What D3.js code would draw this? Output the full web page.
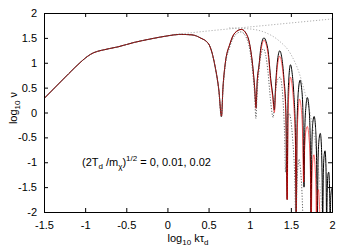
<!DOCTYPE html>
<html>
<head>
<meta charset="utf-8">
<script src="https://cdnjs.cloudflare.com/ajax/libs/d3/7.8.5/d3.min.js"></script>
<style>
html,body{margin:0;padding:0;background:#fff}
svg{display:block}
text{font-family:"Liberation Sans",Arial,Helvetica,sans-serif;fill:#000}
</style>
</head>
<body>
<div id="chart"></div>
<script>
// log10 k tau_d  vs  log10 nu
const xTicks = [-1.5, -1, -0.5, 0, 0.5, 1, 1.5, 2];
const yTicks = [-2, -1.5, -1, -0.5, 0, 0.5, 1, 1.5, 2];

// part common to all three runs
const shared = [[-1.5,0.28],[-1.35,0.53],[-1.2,0.78],[-1.05,1.02],[-0.97,1.13],[-0.9,1.2],[-0.8,1.25],[-0.6,1.32],
  [-0.4,1.41],[-0.2,1.48],[0,1.54],[0.15,1.57],[0.3,1.56],[0.4,1.5],[0.5,1.38]];

// (2T_d/m_chi)^1/2 = 0  (black)
const run0 = [[0.58,0.92],[0.625,0.45],[0.657,-0.08],[0.675,0.5],[0.7,0.95],[0.76,1.38],[0.82,1.6],[0.9,1.67],[0.96,1.58],[1.0,1.37],[1.04,0.88],[1.06,0.5],[1.077,0.1],
  [1.09,0.6],[1.113,0.95],[1.137,1.32],[1.173,1.5],[1.2,1.42],[1.225,1.22],[1.255,0.68],[1.28,0.35],[1.3,0.05],
  [1.315,0.55],[1.335,1.0],[1.365,1.24],[1.39,1.1],[1.415,0.7],[1.44,0.0],[1.455,-1.75],
  [1.465,0.2],[1.478,0.75],[1.495,0.96],[1.515,0.8],[1.535,0.4],[1.555,-0.4],[1.565,-2.2],
  [1.575,-0.3],[1.59,0.4],[1.612,0.65],[1.63,0.5],[1.645,0.1],[1.66,-1.5],
  [1.67,-0.3],[1.685,0.15],[1.7,0.3],[1.72,0.1],[1.735,-0.5],[1.745,-2.2],
  [1.755,-0.7],[1.767,-0.2],[1.783,-0.08],[1.8,-0.3],[1.812,-0.9],[1.822,-2.2],
  [1.83,-1.0],[1.842,-0.55],[1.858,-0.42],[1.872,-0.7],[1.88,-1.3],[1.887,-2.2],
  [1.895,-1.2],[1.905,-0.85],[1.915,-0.77],[1.927,-1.1],[1.935,-2.2],
  [1.942,-1.6],[1.95,-1.25],[1.96,-1.2],[1.97,-1.5],[1.978,-2.2],
  [1.985,-1.7],[1.995,-1.55],[2.0,-1.52]];

// = 0.01  (red)
const run1 = [[0.58,0.92],[0.625,0.45],[0.657,-0.08],[0.675,0.5],[0.7,0.95],[0.76,1.38],[0.82,1.6],[0.9,1.67],[0.96,1.57],[1.0,1.36],[1.04,0.86],[1.06,0.48],[1.077,0.08],
  [1.09,0.58],[1.113,0.92],[1.14,1.28],[1.173,1.45],[1.2,1.37],[1.225,1.15],[1.255,0.62],[1.28,0.3],[1.3,0.0],
  [1.315,0.45],[1.335,0.9],[1.365,1.13],[1.39,0.98],[1.415,0.6],[1.44,-0.1],[1.455,-1.75],
  [1.467,0.0],[1.48,0.5],[1.495,0.71],[1.515,0.55],[1.535,0.15],[1.555,-0.6],[1.565,-2.2],
  [1.575,-0.6],[1.59,0.05],[1.605,0.27],[1.625,0.1],[1.64,-0.3],[1.655,-1.4],
  [1.665,-0.8],[1.68,-0.4],[1.7,-0.28],[1.72,-0.5],[1.735,-1.0],[1.748,-2.2],
  [1.757,-1.3],[1.768,-0.95],[1.78,-0.85],[1.795,-1.1],[1.805,-1.6],[1.81,-2.2],
  [1.817,-1.8],[1.826,-1.6],[1.835,-1.55],[1.845,-1.75],[1.855,-2.2]];

// = 0.02  (dotted)
const run2 = [[0.58,0.9],[0.625,0.42],[0.655,-0.1],[0.675,0.45],[0.7,0.9],[0.76,1.33],[0.82,1.55],[0.895,1.62],[0.96,1.5],[1.0,1.27],[1.04,0.75],[1.06,0.35],[1.075,-0.12],
  [1.09,0.4],[1.11,0.8],[1.135,1.15],[1.165,1.28],[1.195,1.15],[1.22,0.85],[1.25,0.3],[1.27,0.0],[1.285,-0.1],
  [1.3,0.15],[1.32,0.5],[1.345,0.68],[1.37,0.71],[1.39,0.55],[1.41,0.1],[1.425,-0.5],[1.435,-1.2],
  [1.445,-0.6],[1.46,-0.15],[1.48,-0.02],[1.5,-0.15],[1.52,-0.5],[1.545,-1.2],[1.562,-2.2],
  [1.575,-1.4],[1.588,-1.05],[1.6,-0.94],[1.615,-1.1],[1.635,-1.6],[1.648,-2.2]];

// thin grey guide curves
const upperEnv = [[0.1,1.57],[0.5,1.64],[1.0,1.72],[1.5,1.8],[2.0,1.88]];
const lowerEnv = [[0.75,1.7],[1.0,1.68],[1.2,1.6],[1.35,1.45],[1.5,1.17],[1.6,0.8],[1.67,0.4],[1.75,-0.15],[1.82,-0.9],[1.88,-2.0]];

const W = 350, H = 245, mg = {t: 13, r: 18, b: 33, l: 44};

const svg = d3.select("#chart").append("svg").attr("width", W).attr("height", H);
const x = d3.scaleLinear().domain([-1.5, 2]).range([mg.l, W - mg.r]);
const y = d3.scaleLinear().domain([-2, 2]).range([H - mg.b, mg.t]);

svg.append("clipPath").attr("id", "clip").append("rect")
  .attr("x", mg.l).attr("y", mg.t).attr("width", W - mg.l - mg.r).attr("height", H - mg.t - mg.b);

const line = d3.line().x(d => x(d[0])).y(d => y(d[1])).curve(d3.curveMonotoneX);
const g = svg.append("g").attr("clip-path", "url(#clip)");

g.append("path").attr("d", line(upperEnv)).attr("fill", "none").attr("stroke", "#9a9a9a").attr("stroke-width", 0.8).attr("stroke-dasharray", "1.2,1.8");
g.append("path").attr("d", line(lowerEnv)).attr("fill", "none").attr("stroke", "#9a9a9a").attr("stroke-width", 0.8).attr("stroke-dasharray", "1.2,1.8");
g.append("path").attr("d", line(shared.concat(run0))).attr("fill", "none").attr("stroke", "#000").attr("stroke-width", 1);
g.append("path").attr("d", line(shared.concat(run1))).attr("fill", "none").attr("stroke", "#ff0000").attr("stroke-opacity", 0.6).attr("stroke-width", 1);
g.append("path").attr("d", line(shared.concat(run2))).attr("fill", "none").attr("stroke", "#555").attr("stroke-width", 0.9).attr("stroke-dasharray", "1.2,1.6");

const fmt = d => String(d);
const ax = (gen, tx, ty) => svg.append("g").attr("transform", `translate(${tx},${ty})`).call(gen)
  .call(s => s.selectAll("path,line").attr("stroke", "#000"))
  .call(s => s.selectAll("text").attr("font-size", 11).attr("font-family", null));

ax(d3.axisBottom(x).tickValues(xTicks).tickFormat(fmt).tickSize(-4).tickPadding(9), 0, H - mg.b);
ax(d3.axisTop(x).tickValues(xTicks).tickFormat("").tickSize(-4), 0, mg.t);
ax(d3.axisLeft(y).tickValues(yTicks).tickFormat(fmt).tickSize(-4).tickPadding(7), mg.l, 0);
ax(d3.axisRight(y).tickValues(yTicks).tickFormat("").tickSize(-4), W - mg.r, 0);

// axis titles
const xl = svg.append("text").attr("x", 188).attr("y", 241.5).attr("text-anchor", "middle").attr("font-size", 11);
xl.append("tspan").text("log");
xl.append("tspan").attr("font-size", 8).attr("dy", 3).text("10");
xl.append("tspan").attr("dy", -3).text(" k\u03c4");
xl.append("tspan").attr("font-size", 8).attr("dy", 3).text("d");

const yl = svg.append("text").attr("transform", "translate(17,108) rotate(-90)").attr("text-anchor", "middle").attr("font-size", 11);
yl.append("tspan").text("log");
yl.append("tspan").attr("font-size", 8).attr("dy", 3).text("10");
yl.append("tspan").attr("dy", -3).text(" \u03bd");

// annotation
const an = svg.append("text").attr("x", 82).attr("y", 166).attr("font-size", 11);
an.append("tspan").text("(2T");
an.append("tspan").attr("font-size", 8).attr("dy", 3).text("d");
an.append("tspan").attr("dy", -3).text(" /m");
an.append("tspan").attr("font-size", 8).attr("dy", 3).text("\u03c7");
an.append("tspan").attr("dy", -3).text(")");
an.append("tspan").attr("font-size", 8).attr("dy", -5).text("1/2");
an.append("tspan").attr("dy", 5).text(" = 0, 0.01, 0.02");
</script>
</body>
</html>
